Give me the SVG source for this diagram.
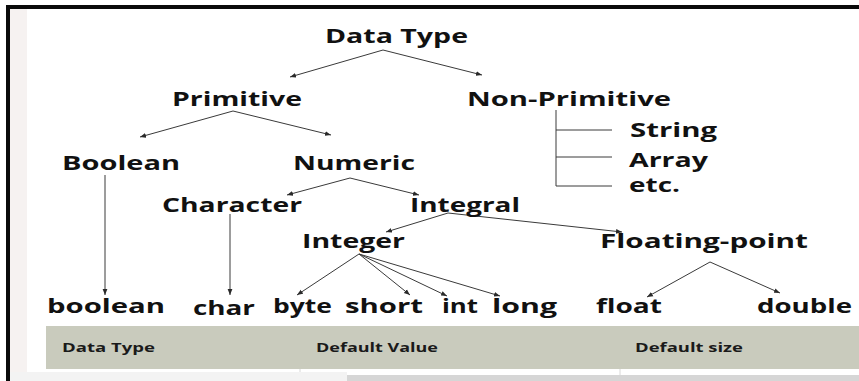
<svg xmlns="http://www.w3.org/2000/svg" width="859" height="381" viewBox="0 0 859 381">
<style>
.t{font-family:"Open Sans","Liberation Sans",sans-serif;font-weight:700;font-size:19px;fill:#111}
.h{font-family:"Open Sans","Liberation Sans",sans-serif;font-weight:700;font-size:12.5px;fill:#1a1a1a}
.c line{stroke:#3a3a3a;stroke-width:1}
.a{marker-end:url(#ah)}
</style>
<defs>
<marker id="ah" viewBox="0 0 10 10" refX="10" refY="5" markerWidth="6" markerHeight="6" markerUnits="userSpaceOnUse" orient="auto">
<path d="M0,1 L10,5 L0,9 z" fill="#2a2a2a"/>
</marker>
</defs>
<rect x="0" y="0" width="859" height="381" fill="#ffffff"/>
<rect x="10" y="9" width="17" height="372" fill="#f6f2f1"/>
<rect x="6" y="5" width="853" height="4" fill="#0a0a0a"/>
<rect x="6" y="5" width="4" height="376" fill="#0a0a0a"/>
<g id="table">
<rect x="46" y="326" width="813" height="43" fill="#c9cbbd"/>
<rect x="46" y="369" width="813" height="3" fill="#ffffff"/>
<line x1="300" y1="369" x2="300" y2="372" stroke="#d8d8d8"/>
<line x1="620" y1="369" x2="620" y2="375" stroke="#d8d8d8"/>
<rect x="10" y="372" width="337" height="9" fill="#f3f3f3"/>
<rect x="347" y="375" width="512" height="6" fill="#d6d6d6"/>
<text class="h" x="62" y="352" textLength="93" lengthAdjust="spacingAndGlyphs">Data Type</text>
<text class="h" x="316" y="352" textLength="122" lengthAdjust="spacingAndGlyphs">Default Value</text>
<text class="h" x="635" y="352" textLength="108" lengthAdjust="spacingAndGlyphs">Default size</text>
</g>
<g id="connectors" class="c">
<line class="a" x1="383" y1="50" x2="290" y2="77"/>
<line class="a" x1="383" y1="50" x2="482" y2="75"/>
<line class="a" x1="233" y1="111" x2="140" y2="137"/>
<line class="a" x1="233" y1="111" x2="331" y2="135"/>
<line x1="556" y1="110" x2="556" y2="186"/>
<line x1="556" y1="130" x2="612" y2="130"/>
<line x1="556" y1="157" x2="612" y2="157"/>
<line x1="556" y1="186" x2="612" y2="186"/>
<line class="a" x1="105" y1="175" x2="105" y2="295"/>
<line class="a" x1="350" y1="178" x2="287" y2="195"/>
<line class="a" x1="350" y1="178" x2="419" y2="195"/>
<line class="a" x1="230" y1="214" x2="230" y2="295"/>
<line class="a" x1="448" y1="213" x2="386" y2="232"/>
<line class="a" x1="448" y1="213" x2="622" y2="232"/>
<line class="a" x1="359" y1="254" x2="297" y2="295"/>
<line class="a" x1="359" y1="254" x2="410" y2="295"/>
<line class="a" x1="359" y1="254" x2="447" y2="296"/>
<line class="a" x1="359" y1="254" x2="500" y2="296"/>
<line class="a" x1="710" y1="262" x2="647" y2="297"/>
<line class="a" x1="710" y1="262" x2="780" y2="293"/>
</g>
<g id="n-datatype"><text class="t" x="325" y="43" textLength="143" lengthAdjust="spacingAndGlyphs">Data Type</text></g>
<g id="n-primitive"><text class="t" x="172" y="106" textLength="130" lengthAdjust="spacingAndGlyphs">Primitive</text></g>
<g id="n-nonprimitive"><text class="t" x="467" y="106" textLength="204" lengthAdjust="spacingAndGlyphs">Non-Primitive</text></g>
<g id="n-string"><text class="t" x="630" y="137" textLength="87" lengthAdjust="spacingAndGlyphs">String</text></g>
<g id="n-array"><text class="t" x="629" y="167" textLength="79" lengthAdjust="spacingAndGlyphs">Array</text></g>
<g id="n-etc"><text class="t" x="629" y="192" textLength="51" lengthAdjust="spacingAndGlyphs">etc.</text></g>
<g id="n-boolean-cat"><text class="t" x="62" y="170" textLength="118" lengthAdjust="spacingAndGlyphs">Boolean</text></g>
<g id="n-numeric"><text class="t" x="293" y="170" textLength="122" lengthAdjust="spacingAndGlyphs">Numeric</text></g>
<g id="n-character"><text class="t" x="162" y="212" textLength="140" lengthAdjust="spacingAndGlyphs">Character</text></g>
<g id="n-integral"><text class="t" x="410" y="212" textLength="110" lengthAdjust="spacingAndGlyphs">Integral</text></g>
<g id="n-integer"><text class="t" x="302" y="248" textLength="103" lengthAdjust="spacingAndGlyphs">Integer</text></g>
<g id="n-floating"><text class="t" x="600" y="248" textLength="208" lengthAdjust="spacingAndGlyphs">Floating-point</text></g>
<g id="n-boolean"><text class="t" x="47" y="313" textLength="118" lengthAdjust="spacingAndGlyphs">boolean</text></g>
<g id="n-char"><text class="t" x="193" y="315" textLength="62" lengthAdjust="spacingAndGlyphs">char</text></g>
<g id="n-byte"><text class="t" x="273" y="313" textLength="59" lengthAdjust="spacingAndGlyphs">byte</text></g>
<g id="n-short"><text class="t" x="345" y="313" textLength="78" lengthAdjust="spacingAndGlyphs">short</text></g>
<g id="n-int"><text class="t" x="442" y="313" textLength="36" lengthAdjust="spacingAndGlyphs">int</text></g>
<g id="n-long"><text class="t" x="492" y="313" textLength="65" lengthAdjust="spacingAndGlyphs">long</text></g>
<g id="n-float"><text class="t" x="596" y="313" textLength="66" lengthAdjust="spacingAndGlyphs">float</text></g>
<g id="n-double"><text class="t" x="757" y="313" textLength="95" lengthAdjust="spacingAndGlyphs">double</text></g>
</svg>
